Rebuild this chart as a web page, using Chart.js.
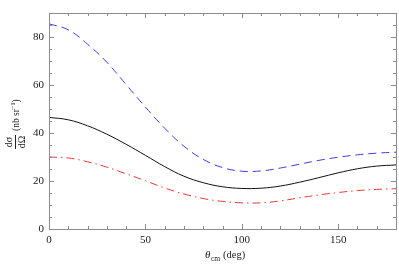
<!DOCTYPE html>
<html>
<head>
<meta charset="utf-8">
<script src="https://cdn.jsdelivr.net/npm/chart.js@4/dist/chart.umd.min.js"></script>
<style>
html, body { margin: 0; padding: 0; background: #fff; }
</style>
</head>
<body>
<canvas id="chart" width="399" height="275"></canvas>
<script>
const angles = [0, 10, 20, 30, 40, 50, 60, 70, 80, 90, 100, 110, 120, 130, 140, 150, 160, 170, 180];
const blueDashed = [85.5, 83, 77, 69.5, 60.2, 50.8, 42, 34.5, 29, 25.6, 24.1, 24.2, 25.4, 27, 28.6, 29.9, 30.9, 31.6, 32];
const blackSolid = [46.5, 45.5, 43, 39.5, 35.3, 30.7, 26, 22, 19.3, 17.6, 16.9, 17, 17.9, 19.5, 21.4, 23.4, 25.1, 26.2, 26.7];
const redDashDot = [30, 29.6, 28, 25.8, 23, 20.1, 17.1, 14.6, 12.7, 11.5, 10.9, 10.9, 11.7, 13, 14.2, 15.2, 16, 16.5, 16.8];
const xTicks = [0, 50, 100, 150];
const yTicks = [0, 20, 40, 60, 80];

const serif = 'Liberation Serif, Times New Roman, serif';
const frameColor = '#8c8c8c';

function toPoints(ys) {
    return ys.map((v, i) => ({ x: angles[i], y: v }));
}

// frame with inward ticks on all four sides, plus axis titles
const framePlugin = {
    id: 'framePlugin',
    afterDraw(chart) {
        const ctx = chart.ctx;
        const a = chart.chartArea;
        const x = chart.scales.x;
        const y = chart.scales.y;
        ctx.save();
        ctx.strokeStyle = frameColor;
        ctx.lineWidth = 1;
        ctx.strokeRect(Math.round(a.left) + 0.5, Math.round(a.top) + 0.5,
            Math.round(a.right - a.left), Math.round(a.bottom - a.top));
        ctx.beginPath();
        for (let v = 0; v <= 180; v += 10) {
            const px = Math.round(x.getPixelForValue(v)) + 0.5;
            const len = v % 50 === 0 ? 5 : 3;
            ctx.moveTo(px, a.bottom); ctx.lineTo(px, a.bottom - len);
            ctx.moveTo(px, a.top); ctx.lineTo(px, a.top + len);
        }
        for (let v = 0; v <= 90; v += 5) {
            const py = Math.round(y.getPixelForValue(v)) + 0.5;
            const len = v % 20 === 0 ? 5 : 3;
            ctx.moveTo(a.left, py); ctx.lineTo(a.left + len, py);
            ctx.moveTo(a.right, py); ctx.lineTo(a.right - len, py);
        }
        ctx.stroke();

        // y title: d sigma / d Omega (nb sr^-1)
        ctx.fillStyle = '#222';
        ctx.translate(15, 142);
        ctx.rotate(-Math.PI / 2);
        ctx.textAlign = 'center';
        ctx.textBaseline = 'middle';
        ctx.font = '10px ' + serif;
        ctx.fillText('d\u03C3', 0, -6);
        ctx.fillText('d\u03A9', 0, 7);
        ctx.beginPath();
        ctx.strokeStyle = '#222';
        ctx.moveTo(-7, 0.5); ctx.lineTo(7, 0.5);
        ctx.stroke();
        ctx.font = '9.5px ' + serif;
        ctx.fillText('(nb sr', 22, 1);
        ctx.font = '7px ' + serif;
        ctx.fillText('\u22121', 36, -2);
        ctx.font = '9.5px ' + serif;
        ctx.fillText(')', 41, 1);
        ctx.restore();

        // x title: theta_cm (deg)
        ctx.save();
        ctx.fillStyle = '#222';
        ctx.textBaseline = 'alphabetic';
        ctx.textAlign = 'left';
        ctx.font = 'italic 11px ' + serif;
        ctx.fillText('\u03B8', 205, 258);
        ctx.font = '7.5px ' + serif;
        ctx.fillText('cm', 211, 261);
        ctx.font = '10.5px ' + serif;
        ctx.fillText('(deg)', 223, 258);
        ctx.restore();
    }
};

new Chart(document.getElementById('chart').getContext('2d'), {
    type: 'line',
    data: {
        datasets: [
            {
                data: toPoints(blueDashed),
                borderColor: '#3a3aee',
                borderWidth: 1,
                borderDash: [8, 5],
                pointRadius: 0,
                tension: 0.4,
                fill: false
            },
            {
                data: toPoints(blackSolid),
                borderColor: '#111',
                borderWidth: 1,
                pointRadius: 0,
                tension: 0.4,
                fill: false
            },
            {
                data: toPoints(redDashDot),
                borderColor: '#ee3333',
                borderWidth: 1,
                borderDash: [8, 4, 1.5, 4],
                pointRadius: 0,
                tension: 0.4,
                fill: false
            }
        ]
    },
    options: {
        responsive: false,
        animation: false,
        layout: { padding: { top: 13, right: 3, left: 0, bottom: 0 } },
        plugins: {
            legend: { display: false },
            tooltip: { enabled: false }
        },
        scales: {
            x: {
                type: 'linear',
                min: 0,
                max: 180,
                afterFit(scale) { scale.height = 46; },
                afterBuildTicks(scale) { scale.ticks = xTicks.map(v => ({ value: v })); },
                grid: { display: false, drawTicks: false },
                border: { display: false },
                ticks: {
                    padding: 5,
                    color: '#222',
                    font: { family: serif, size: 11 }
                }
            },
            y: {
                type: 'linear',
                min: 0,
                max: 90,
                afterFit(scale) { scale.width = 49; },
                afterBuildTicks(scale) { scale.ticks = yTicks.map(v => ({ value: v })); },
                grid: { display: false, drawTicks: false },
                border: { display: false },
                ticks: {
                    padding: 5,
                    color: '#222',
                    font: { family: serif, size: 11 }
                }
            }
        }
    },
    plugins: [framePlugin]
});
</script>
</body>
</html>
